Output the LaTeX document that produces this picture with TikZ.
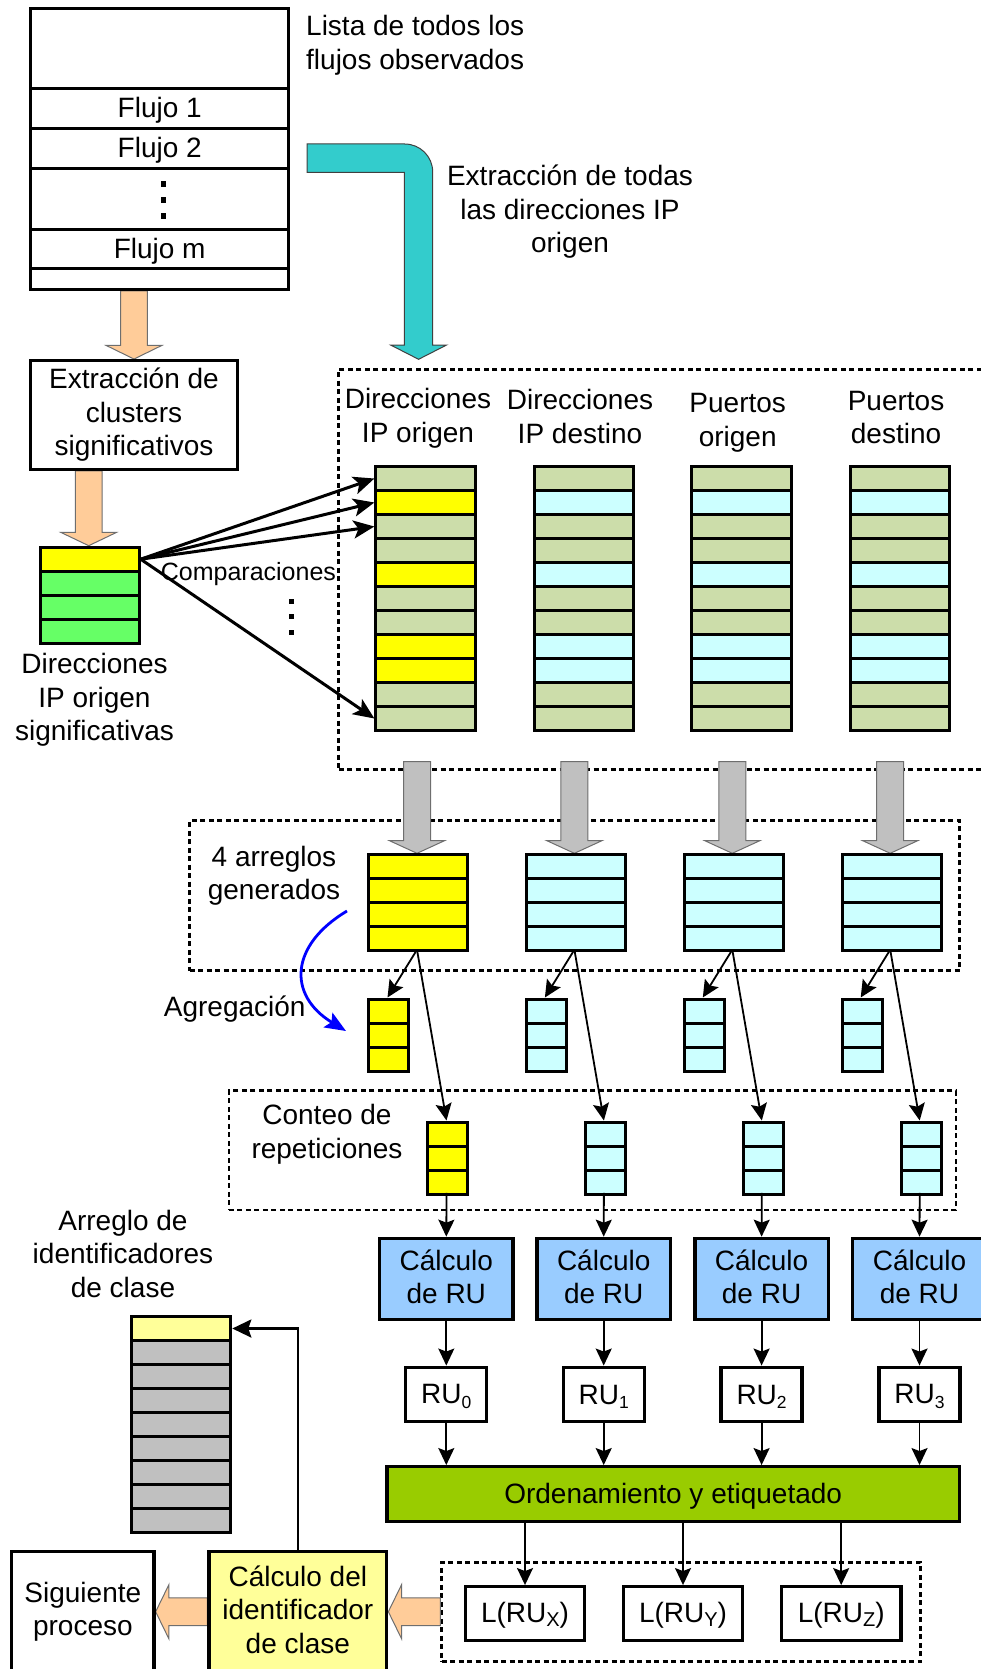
\documentclass[tikz,border=0pt]{standalone}
\usepackage{fontspec}
\setmainfont{Liberation Sans}
\usetikzlibrary{arrows.meta,calc}

\pgfdeclarelayer{back}
\pgfdeclarelayer{mid}
\pgfsetlayers{back,mid,main}

\definecolor{olv}{RGB}{204,221,170}
\definecolor{cyn}{RGB}{204,255,255}
\definecolor{yel}{RGB}{255,255,0}
\definecolor{grn}{RGB}{102,255,102}
\definecolor{blu}{RGB}{153,204,255}
\definecolor{lime}{RGB}{153,204,0}
\definecolor{pyel}{RGB}{255,255,153}
\definecolor{gry}{RGB}{192,192,192}
\definecolor{peachc}{RGB}{255,204,153}
\definecolor{tealc}{RGB}{51,204,204}
\definecolor{edgegray}{RGB}{110,110,110}

% text size and a strut that centres capitals in a node
\newcommand\tl{\fontsize{28}{33.5}\selectfont}
\newcommand\cs{\rule[-4.3pt]{0pt}{28.6pt}}
\newcommand\lowidx[1]{\raisebox{-4.7pt}{\fontsize{17.5}{17.5}\selectfont#1}}
\newcommand\lowcap[1]{\raisebox{-3.4pt}{\fontsize{20}{20}\selectfont#1}}

\tikzset{
  frame/.style={draw, line width=3.3pt, inner sep=0pt},
  bx/.style={frame, align=center, font=\tl,
    execute at begin node=\cs, execute at end node=\cs},
  txt/.style={inner sep=0pt, align=center, font=\tl,
    execute at begin node=\cs, execute at end node=\cs},
  cell/.style={draw, line width=3pt, inner sep=0pt},
  dbox/.style={draw, line width=2.8pt, dash pattern=on 5pt off 3.5pt, inner sep=0pt},
  flow/.style={line width=1.8pt, -{Stealth[length=17pt,width=16pt,inset=3pt]}},
  cmp/.style={line width=3pt, -{Stealth[length=21pt,width=18pt,inset=5pt]}},
  fb/.style={line width=2.6pt, -{Stealth[length=19pt,width=18pt,inset=3pt]}},
  agg/.style={blue, line width=2.8pt, -{Stealth[length=21pt,width=17pt,inset=4pt]}},
  peacharrow/.style={fill=peachc, draw=edgegray, line width=1pt},
  grayarrow/.style={fill=gry, draw=edgegray, line width=1pt},
  tealarrow/.style={fill=tealc, draw=black!75, line width=1pt},
}

% stacked array of 24pt cells: name, left, top, width, rows, colours
\newcommand\cellarray[6]{%
  \foreach \cellc [count=\celli] in {#6}{
    \node[cell, fill=\cellc, minimum width=#4, minimum height=24, anchor=north west]
      (#1-\celli) at (#2, {#3+24*(\celli-1)}) {};
  }
  \node[inner sep=0pt, minimum width=#4, minimum height={24*#5}, anchor=north west] (#1) at (#2,#3) {};
}

% block arrows: style, start, tip, shaft half width, head half width, head length
\newcommand\blkdown[6]{%
  \draw[#1] ($(#2)+(-#4,0)$) -- ($(#3)+(-#4,-#6)$) -- ($(#3)+(-#5,-#6)$) -- (#3)
    -- ($(#3)+(#5,-#6)$) -- ($(#3)+(#4,-#6)$) -- ($(#2)+(#4,0)$) -- cycle;}
\newcommand\blkleft[6]{%
  \draw[#1] ($(#2)+(0,-#4)$) -- ($(#3)+(#6,-#4)$) -- ($(#3)+(#6,-#5)$) -- (#3)
    -- ($(#3)+(#6,#5)$) -- ($(#3)+(#6,#4)$) -- ($(#2)+(0,#4)$) -- cycle;}

\begin{document}
\begin{tikzpicture}[x=1pt,y=-1pt]
\useasboundingbox (0,0) rectangle (981,1669);
\clip (0,0) rectangle (981,1669);

% dashed groups
\begin{pgfonlayer}{back}
  \node[dbox, minimum width=661.5, minimum height=399.8] (fields) at (669.25,569.4) {};
  \node[dbox, minimum width=770, minimum height=150] (gen) at (574.7,895.7) {};
  \node[dbox, minimum width=727.1, minimum height=119.2] (cnt) at (592.45,1150.4) {};
  \node[dbox, minimum width=478.8, minimum height=99.4] (lbl) at (681.1,1612) {};
\end{pgfonlayer}

% list of observed flows
\node[frame, minimum width=258, minimum height=80] (l0) at (159.7,48.3) {};
\node[bx, minimum width=258, minimum height=40] (l1) at (159.7,108.3) {Flujo 1};
\node[bx, minimum width=258, minimum height=40] (l2) at (159.7,148.3) {Flujo 2};
\node[frame, minimum width=258, minimum height=61] (l3) at (159.7,198.8) {};
\node[bx, minimum width=258, minimum height=39] (l4) at (159.7,248.8) {Flujo m};
\node[frame, minimum width=258, minimum height=21] (l5) at (159.7,278.8) {};
\foreach \dy in {184.3,200.3,216.3} \fill (160.6,\dy-2.8) rectangle ++(5.6,5.6);

\node[txt, anchor=west, align=left] (lista) at (306,45.5) {Lista de todos los\\flujos observados};
\node[txt] (extip) at (570,212) {Extracción de todas\\las direcciones IP\\origen};

% significant clusters
\node[bx, minimum width=206.6, minimum height=108.6] (clus) at (134,415) {Extracción de\\clusters\\significativos};
\cellarray{sig}{39.3}{545.7}{98.4}{4}{yel,grn,grn,grn}
\node[txt] (dsig) at (94.5,700) {Direcciones\\IP origen\\significativas};

% field columns
\node[txt] (h1) at (418,418.5) {Direcciones\\IP origen};
\node[txt] (h2) at (580,418.5) {Direcciones\\IP destino};
\node[txt] (h3) at (737.7,423) {Puertos\\origen};
\node[txt] (h4) at (896,419.5) {Puertos\\destino};
\cellarray{c1}{374.4}{465}{99.3}{11}{olv,yel,olv,olv,yel,olv,olv,yel,yel,olv,olv}
\cellarray{c2}{532.6}{465}{99.3}{11}{olv,cyn,olv,olv,cyn,olv,olv,cyn,cyn,olv,olv}
\cellarray{c3}{690.4}{465}{99.3}{11}{olv,cyn,olv,olv,cyn,olv,olv,cyn,cyn,olv,olv}
\cellarray{c4}{849}{465}{99.3}{11}{olv,cyn,olv,olv,cyn,olv,olv,cyn,cyn,olv,olv}

% comparisons
\node[txt, font=\fontsize{25}{30}\selectfont] (cmpl) at (248.4,570.5) {Comparaciones};
\foreach \dy in {601.7,616.9,632.1} \fill (289.2,\dy-2.5) rectangle ++(5,5);
\foreach \k in {1,2,3,11} \draw[cmp] (sig-1.east) -- (c1-\k.west);

% generated arrays, aggregation and counting
\node[txt] (genl) at (274,876) {4 arreglos\\generados};
\node[txt] (aggl) at (234.7,1007.5) {Agregación};
\node[txt] (cntl) at (327,1134) {Conteo de\\repeticiones};

\cellarray{a1}{367.3}{853.3}{99}{4}{yel,yel,yel,yel}
\cellarray{a2}{524.7}{853.3}{99}{4}{cyn,cyn,cyn,cyn}
\cellarray{a3}{682.6}{853.3}{99}{4}{cyn,cyn,cyn,cyn}
\cellarray{a4}{840.5}{853.3}{99}{4}{cyn,cyn,cyn,cyn}

\cellarray{s1}{367.3}{997.5}{40}{3}{yel,yel,yel}
\cellarray{s2}{524.7}{997.5}{40}{3}{cyn,cyn,cyn}
\cellarray{s3}{682.6}{997.5}{40}{3}{cyn,cyn,cyn}
\cellarray{s4}{840.5}{997.5}{40}{3}{cyn,cyn,cyn}

\cellarray{r1}{426.3}{1120.5}{40}{3}{yel,yel,yel}
\cellarray{r2}{583.7}{1120.5}{40}{3}{cyn,cyn,cyn}
\cellarray{r3}{741.6}{1120.5}{40}{3}{cyn,cyn,cyn}
\cellarray{r4}{899.5}{1120.5}{40}{3}{cyn,cyn,cyn}

% RU computation
\node[bx, fill=blu, minimum width=133.4, minimum height=81] (k1) at (446.3,1278.8) {Cálculo\\de RU};
\node[bx, fill=blu, minimum width=133.4, minimum height=81] (k2) at (603.7,1278.8) {Cálculo\\de RU};
\node[bx, fill=blu, minimum width=133.4, minimum height=81] (k3) at (761.6,1278.8) {Cálculo\\de RU};
\node[bx, fill=blu, minimum width=133.4, minimum height=81] (k4) at (919.5,1278.8) {Cálculo\\de RU};

\node[bx, minimum width=81, minimum height=54] (ru1) at (446.3,1394.2) {RU\lowidx{0}};
\node[bx, minimum width=81, minimum height=54] (ru2) at (603.7,1394.2) {RU\lowidx{1}};
\node[bx, minimum width=81, minimum height=54] (ru3) at (761.6,1394.2) {RU\lowidx{2}};
\node[bx, minimum width=81, minimum height=54] (ru4) at (919.5,1394.2) {RU\lowidx{3}};

\node[bx, fill=lime, minimum width=572.6, minimum height=55] (bar) at (673.2,1494.2) {Ordenamiento y etiquetado};

\node[bx, minimum width=119.5, minimum height=54] (lx) at (525,1613.7) {L(RU\lowcap{X})};
\node[bx, minimum width=119.5, minimum height=54] (ly) at (683,1613.7) {L(RU\lowcap{Y})};
\node[bx, minimum width=119.5, minimum height=54] (lz) at (841.2,1613.7) {L(RU\lowcap{Z})};

% class identifiers
\node[txt] (arrl) at (123,1255.6) {Arreglo de\\identificadores\\de clase};
\cellarray{ga}{130}{1315}{99.3}{9}{pyel,gry,gry,gry,gry,gry,gry,gry,gry}
\node[bx, fill=pyel, minimum width=177.7, minimum height=120] (cid) at (297.85,1611.7) {Cálculo del\\identificador\\de clase};
\node[bx, minimum width=142.3, minimum height=120] (nxt) at (82.85,1611.7) {Siguiente\\proceso};

% line connectors
\foreach \k in {1,...,4}{
  \draw[flow] (a\k.south) -- (s\k.north);
  \draw[flow] (a\k.south) -- (r\k.north);
  \draw[flow] (r\k.south) -- (k\k.north);
  \draw[flow] (k\k.south) -- (ru\k.north);
  \draw[flow] (ru\k.south) -- (ru\k.south |- bar.north);
}
\foreach \n in {lx,ly,lz} \draw[flow] (\n.north |- bar.south) -- (\n.north);
\draw[fb] (cid.north) |- (ga-1.east);

\coordinate (aggS) at (347,911);
\coordinate (aggE) at (346,1031);
\draw[agg] (aggS) .. controls (290,945) and (287,995) .. (aggE);

% block arrows
\begin{pgfonlayer}{mid}
  \coordinate (p1s) at (clus.north |- l5.south);
  \blkdown{peacharrow}{p1s}{clus.north}{13.3}{28}{13.7}
  \coordinate (p2s) at (sig.north |- clus.south);
  \blkdown{peacharrow}{p2s}{sig.north}{13.3}{27.8}{13.3}
  \foreach \k in {1,...,4}{
    \coordinate (gs\k) at ($(a\k.north)+(0,-91.6)$);
    \blkdown{grayarrow}{gs\k}{a\k.north}{13.5}{27.7}{12.7}
  }
  \blkleft{peacharrow}{cid.west}{nxt.east}{13.9}{27.2}{13.3}
  \coordinate (p4s) at (lbl.west |- cid.east);
  \blkleft{peacharrow}{p4s}{cid.east}{13.9}{27.2}{13.3}
  \coordinate (tealS) at (307,158.2);
  \coordinate (tealtip) at (418.6,359.3);
  \draw[tealarrow] (tealS |- 0,144) -- (404.7,144)
    .. controls (420.2,144) and (432.7,156.5) .. (432.7,172)
    -- (432.7,345) -- (446.6,345) -- (tealtip) -- (390.6,345) -- (404.3,345)
    -- (404.3,172.3) -- (tealS |- 0,172.3) -- cycle;
\end{pgfonlayer}
\end{tikzpicture}
\end{document}
